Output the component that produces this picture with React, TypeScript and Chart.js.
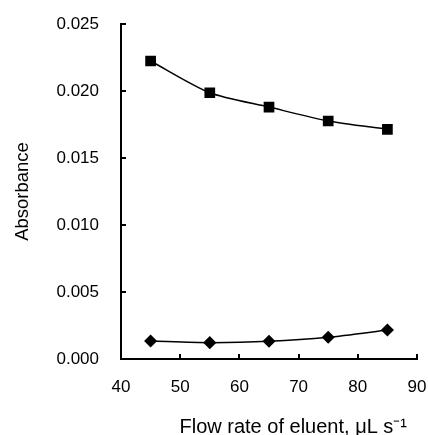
import React, { useEffect, useRef } from "react";
import { Chart, registerables } from "chart.js";

Chart.register(...registerables);

const flowRates = [45, 55, 65, 75, 85];
const squareSeries = [0.02224, 0.01987, 0.0188, 0.01776, 0.01714];
const diamondSeries = [0.00134, 0.00122, 0.00132, 0.00162, 0.00216];
const xTickValues = [40, 50, 60, 70, 80, 90];
const yTickValues = [0, 0.005, 0.01, 0.015, 0.02, 0.025];

const FONT = "'Liberation Sans', Arial, sans-serif";

const inwardTicks = {
  id: "inwardTicks",
  afterDraw(chart: any) {
    const ctx = chart.ctx;
    const xs = chart.scales.x;
    const ys = chart.scales.y;
    const area = chart.chartArea;
    ctx.save();
    ctx.strokeStyle = "#000";
    ctx.lineWidth = 2;
    ctx.beginPath();
    xs.ticks.forEach((t: any) => {
      const px = Math.round(xs.getPixelForValue(t.value));
      ctx.moveTo(px, area.bottom);
      ctx.lineTo(px, area.bottom - 5);
    });
    ys.ticks.forEach((t: any) => {
      const py = Math.round(ys.getPixelForValue(t.value));
      ctx.moveTo(area.left, py);
      ctx.lineTo(area.left + 5, py);
    });
    ctx.stroke();
    ctx.restore();
  },
};

export default function App() {
  const ref = useRef<HTMLCanvasElement | null>(null);
  useEffect(() => {
    if (!ref.current) return;
    const chart = new Chart(ref.current, {
      type: "line",
      data: {
        datasets: [
          {
            label: "squares",
            data: flowRates.map((x, i) => ({ x, y: squareSeries[i] })),
            borderColor: "#000",
            backgroundColor: "#000",
            borderWidth: 1.5,
            pointStyle: "rect",
            pointRadius: 6.5,
            pointHoverRadius: 6.5,
            tension: 0.25,
          },
          {
            label: "diamonds",
            data: flowRates.map((x, i) => ({ x, y: diamondSeries[i] })),
            borderColor: "#000",
            backgroundColor: "#000",
            borderWidth: 1.5,
            pointStyle: "rectRot",
            pointRadius: 5.5,
            pointHoverRadius: 5.5,
            tension: 0.25,
          },
        ],
      },
      options: {
        responsive: false,
        animation: false,
        layout: { padding: 0 },
        plugins: { legend: { display: false }, tooltip: { enabled: false } },
        scales: {
          x: {
            type: "linear",
            min: 40,
            max: 90,
            afterBuildTicks: (s: any) => {
              s.ticks = xTickValues.map((v) => ({ value: v }));
            },
            afterFit: (s: any) => {
              s.height = 76;
              s.paddingLeft = 0;
              s.paddingRight = 11;
            },
            grid: { display: false, drawTicks: false },
            border: { display: true, color: "#000", width: 2 },
            ticks: {
              color: "#000",
              padding: 18,
              font: { family: FONT, size: 17 },
            },
            title: {
              display: true,
              text: "Flow rate of eluent, μL s⁻¹\u2002",
              color: "#000",
              align: "end",
              padding: { top: 0, bottom: 0 },
              font: { family: FONT, size: 20, lineHeight: 0.8 },
            },
          },
          y: {
            type: "linear",
            min: 0,
            max: 0.025,
            afterBuildTicks: (s: any) => {
              s.ticks = yTickValues.map((v) => ({ value: v }));
            },
            afterFit: (s: any) => {
              s.width = 121;
              s.paddingTop = 24;
              s.paddingBottom = 0;
            },
            grid: { display: false, drawTicks: false },
            border: { display: true, color: "#000", width: 2 },
            ticks: {
              color: "#000",
              padding: 22,
              font: { family: FONT, size: 17 },
              callback: (v: any) => Number(v).toFixed(3),
            },
            title: {
              display: true,
              text: "Absorbance",
              color: "#000",
              padding: { top: 12, bottom: 0 },
              font: { family: FONT, size: 18.5 },
            },
          },
        },
      },
      plugins: [inwardTicks],
    });
    return () => chart.destroy();
  }, []);
  return (
    <div style={{ position: "fixed", left: 0, top: 0, width: 428, height: 435, background: "#fff" }}>
      <canvas ref={ref} width={428} height={435} />
    </div>
  );
}
